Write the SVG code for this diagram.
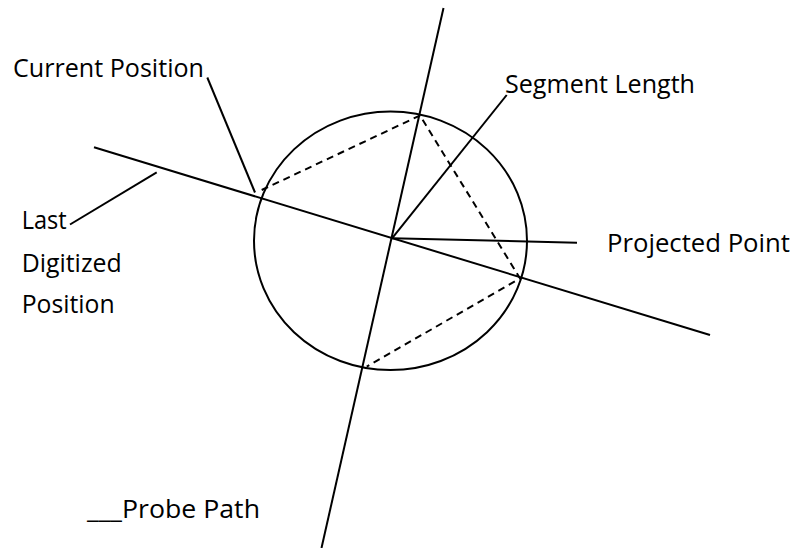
<svg xmlns="http://www.w3.org/2000/svg" width="792" height="548" viewBox="0 0 792 548">
<style>
.ln{stroke:#000;stroke-width:2;fill:none;stroke-linecap:butt}
.dash{stroke:#000;stroke-width:2;fill:none;stroke-dasharray:7 5}
.lbl{font-family:"Open Sans","Liberation Sans",sans-serif;font-size:25px;fill:#000}
</style>
<rect width="792" height="548" fill="#fff"/>
<g id="circle">
<ellipse class="ln" cx="390.5" cy="240.8" rx="136.5" ry="129.3"/>
</g>
<g id="connectors">
<line id="probe-path" class="ln" x1="443.5" y1="8" x2="321.5" y2="548"/>
<line id="digitized-line" class="ln" x1="94" y1="147.3" x2="710" y2="335"/>
<line id="segment-length-line" class="ln" x1="392" y1="238.3" x2="506.7" y2="95"/>
<line id="projected-line" class="ln" x1="392" y1="238.3" x2="577" y2="242.7"/>
<line id="current-leader" class="ln" x1="207.3" y1="77.5" x2="255" y2="192.5"/>
<line id="last-leader" class="ln" x1="156.7" y1="172.3" x2="70" y2="224.5"/>
<polyline id="dashed" class="dash" points="261.7,190 420,115.5 520,278.3 366.7,366.7"/>
</g>
<g id="label-current"><text class="lbl" x="13" y="77" textLength="191" lengthAdjust="spacingAndGlyphs">Current Position</text></g>
<g id="label-segment"><text class="lbl" x="505" y="93" textLength="190" lengthAdjust="spacingAndGlyphs">Segment Length</text></g>
<g id="label-projected"><text class="lbl" x="607" y="251.7" textLength="183" lengthAdjust="spacingAndGlyphs">Projected Point</text></g>
<g id="label-last">
<text class="lbl" x="21.7" y="229" textLength="45" lengthAdjust="spacingAndGlyphs">Last</text>
<text class="lbl" x="21.7" y="271.7" textLength="100" lengthAdjust="spacingAndGlyphs">Digitized</text>
<text class="lbl" x="21.7" y="313" textLength="93" lengthAdjust="spacingAndGlyphs">Position</text>
</g>
<g id="label-probe"><text class="lbl" x="87" y="518" textLength="173" lengthAdjust="spacingAndGlyphs">___Probe Path</text></g>
</svg>
